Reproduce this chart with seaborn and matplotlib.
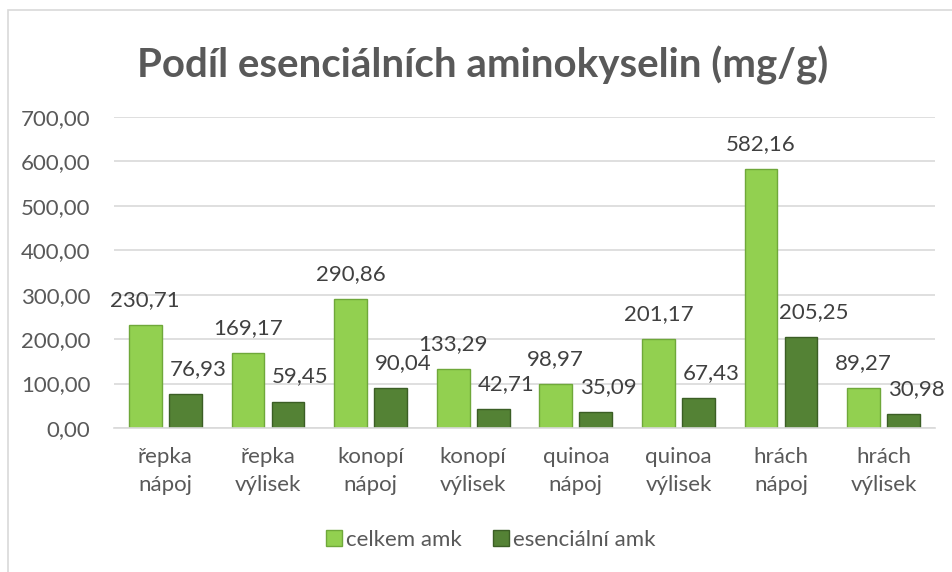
import pandas as pd
import seaborn as sns
import matplotlib.pyplot as plt
from matplotlib.patches import Rectangle, Patch
from matplotlib.ticker import FixedLocator, FuncFormatter

# data
kategorie = ["řepka\nnápoj", "řepka\nvýlisek", "konopí\nnápoj", "konopí\nvýlisek",
             "quinoa\nnápoj", "quinoa\nvýlisek", "hrách\nnápoj", "hrách\nvýlisek"]
celkem = [230.71, 169.17, 290.86, 133.29, 98.97, 201.17, 582.16, 89.27]
esencialni = [76.93, 59.45, 90.04, 42.71, 35.09, 67.43, 205.25, 30.98]
serie = ["celkem amk", "esenciální amk"]

df = pd.DataFrame({
    "kategorie": kategorie * 2,
    "hodnota": celkem + esencialni,
    "serie": [serie[0]] * len(kategorie) + [serie[1]] * len(kategorie),
})

sns.set_style("white")
plt.rcParams["font.family"] = ["Lato", "DejaVu Sans"]

seda = "#595959"
barvy = {"celkem amk": "#92D050", "esenciální amk": "#548235"}
okraje = {"celkem amk": "#6FA83A", "esenciální amk": "#3B5E25"}

fig = plt.figure(figsize=(9.52, 5.72), dpi=100)
ax = fig.add_axes([114 / 952, 1 - 428 / 572, 821 / 952, 311 / 572])

sns.barplot(data=df, x="kategorie", y="hodnota", hue="serie", palette=barvy,
            saturation=1, width=0.78, gap=0.18, ax=ax, legend=False)

# edges + value labels
for cont, s in zip(ax.containers, serie):
    for bar in cont:
        bar.set_edgecolor(okraje[s])
        bar.set_linewidth(1.0)
    dx = 0 if s == serie[0] else 9
    for bar in cont:
        v = bar.get_height()
        ax.annotate(f"{v:.2f}".replace(".", ","),
                    (bar.get_x() + bar.get_width() / 2, v),
                    xytext=(dx, 18), textcoords="offset points",
                    ha="center", va="center", fontsize=16, color="#404040")

ax.set_ylim(0, 700)
ax.set_xlim(-0.5, len(kategorie) - 0.5)
ax.yaxis.set_major_locator(FixedLocator(range(0, 701, 100)))
ax.yaxis.set_major_formatter(FuncFormatter(lambda v, p: f"{v:.2f}".replace(".", ",")))
ax.grid(axis="y", color="#D9D9D9", linewidth=1.2)
ax.set_axisbelow(True)
for sp in ["left", "right", "top"]:
    ax.spines[sp].set_visible(False)
ax.spines["bottom"].set_color("#D9D9D9")
ax.spines["bottom"].set_linewidth(1.2)

ax.set_xlabel("")
ax.set_ylabel("")
ax.tick_params(axis="y", length=0, pad=17, labelsize=16, labelcolor=seda)
ax.tick_params(axis="x", which="major", length=0, pad=14, labelsize=16, labelcolor=seda)
ax.set_xticks([i - 0.5 for i in range(len(kategorie) + 1)], minor=True)
ax.tick_params(axis="x", which="minor", length=8, color="#D9D9D9", width=1.2)
for t in ax.get_xticklabels():
    t.set_linespacing(1.5)

fig.text(483 / 952, 1 - 65 / 572, "Podíl esenciálních aminokyselin (mg/g)",
         ha="center", va="center", fontsize=29, fontweight="bold", color=seda)

handles = [Patch(facecolor=barvy[s], edgecolor=okraje[s]) for s in serie]
fig.legend(handles, serie, loc="center", bbox_to_anchor=(491 / 952, 1 - 540 / 572),
           ncol=2, frameon=False, fontsize=16, labelcolor=seda,
           handlelength=0.7, handleheight=0.7, handletextpad=0.2, columnspacing=1.4)

# chart border
fig.patches.append(Rectangle((8 / 952, -0.05), 1.0, 1 - 10 / 572 + 0.05,
                             transform=fig.transFigure, fill=False,
                             edgecolor="#D9D9D9", linewidth=1.2))

fig.savefig("out.png", dpi=100)
